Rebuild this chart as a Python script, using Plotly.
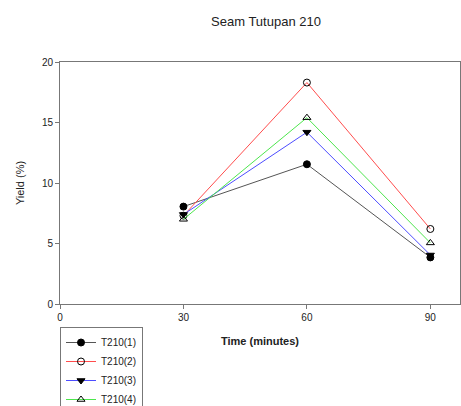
import plotly.graph_objects as go

time_min = [30, 60, 90]
t210_1 = [8.05, 11.55, 3.85]
t210_2 = [7.3, 18.3, 6.2]
t210_3 = [7.4, 14.2, 4.05]
t210_4 = [7.0, 15.4, 5.05]

series_names = ["T210(1)", "T210(2)", "T210(3)", "T210(4)"]
x_ticks = [0, 30, 60, 90]
y_ticks = [0, 5, 10, 15, 20]

styles = [
    dict(color="#555555", symbol="circle"),
    dict(color="#ff4d4d", symbol="circle-open"),
    dict(color="#4d4dff", symbol="triangle-down"),
    dict(color="#4de64d", symbol="triangle-up-open"),
]

fig = go.Figure()
for name, ys, st in zip(series_names, [t210_1, t210_2, t210_3, t210_4], styles):
    fig.add_trace(go.Scatter(
        x=time_min, y=ys, name=name, mode="lines+markers",
        line=dict(color=st["color"], width=1),
        marker=dict(symbol=st["symbol"], size=7, color="black",
                    line=dict(color="black", width=1)),
    ))

axis_font = dict(family="Liberation Sans, Arial", size=10, color="#222")
fig.update_layout(
    width=461, height=406,
    margin=dict(l=60, r=1, t=62, b=102, autoexpand=False),
    paper_bgcolor="white", plot_bgcolor="white",
    title=dict(text="Seam Tutupan 210", x=266 / 461, xanchor="center",
               y=1 - 21 / 406, yanchor="middle", yref="container",
               font=dict(family="Liberation Sans, Arial", size=13, color="#222")),
    font=dict(family="Liberation Sans, Arial", size=10, color="#222"),
    xaxis=dict(range=[0, 97.2], tickvals=x_ticks, showgrid=False, zeroline=False,
               showline=True, linecolor="#777", linewidth=1, mirror=True,
               ticks="outside", ticklen=4, tickcolor="#777", tickfont=axis_font,
               title=dict(text="<b>Time (minutes)</b>", font=dict(size=11))),
    yaxis=dict(range=[0, 20], tickvals=y_ticks, showgrid=False, zeroline=False,
               showline=True, linecolor="#777", linewidth=1, mirror=True,
               ticks="outside", ticklen=4, tickcolor="#777", tickfont=axis_font,
               title=dict(text="Yield (%)", font=dict(size=11))),
    legend=dict(x=0, xanchor="left", y=-23 / 242, yanchor="top",
                bordercolor="#777", borderwidth=1, bgcolor="white",
                font=dict(size=10), tracegroupgap=0, itemwidth=30),
    showlegend=True,
)

fig.write_html("out.html", config={"displayModeBar": False},
               post_script="document.body.style.margin='0';")
